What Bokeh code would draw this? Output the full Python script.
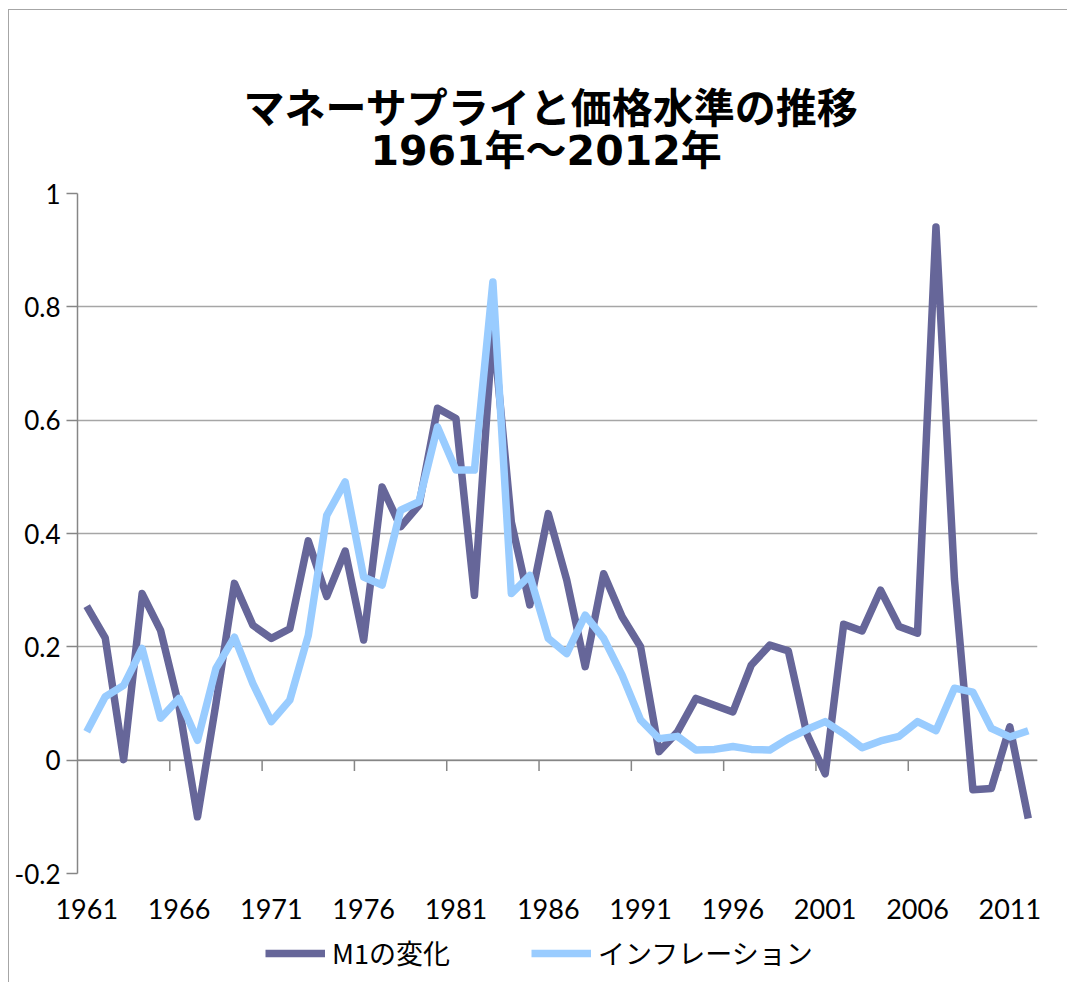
from bokeh.plotting import figure
from bokeh.layouts import column
from bokeh.models import (Range1d, FixedTicker, CustomJSTickFormatter, Span,
                          Legend, LegendItem, Title)
from bokeh.embed import file_html
from bokeh.resources import INLINE

# ---- data ----
years = list(range(1961, 2013))
m1_change = [0.272, 0.216, 0.001, 0.294, 0.229, 0.095, -0.100, 0.100, 0.312, 0.238,
             0.215, 0.232, 0.387, 0.289, 0.369, 0.212, 0.482, 0.412, 0.450, 0.621,
             0.603, 0.291, 0.765, 0.420, 0.274, 0.435, 0.318, 0.165, 0.329, 0.253,
             0.200, 0.015, 0.050, 0.109, 0.097, 0.085, 0.168, 0.203, 0.193, 0.047,
             -0.024, 0.240, 0.228, 0.300, 0.236, 0.224, 0.941, 0.320, -0.052, -0.050,
             0.059, -0.103]
inflation = [0.050, 0.112, 0.132, 0.197, 0.074, 0.109, 0.035, 0.162, 0.217, 0.135,
             0.068, 0.106, 0.220, 0.432, 0.491, 0.323, 0.309, 0.441, 0.456, 0.588,
             0.512, 0.512, 0.844, 0.294, 0.326, 0.215, 0.188, 0.256, 0.215, 0.150,
             0.071, 0.038, 0.042, 0.018, 0.019, 0.024, 0.019, 0.018, 0.038, 0.054,
             0.068, 0.047, 0.022, 0.034, 0.042, 0.068, 0.052, 0.127, 0.120, 0.056,
             0.041, 0.052]
label_years = years[::5]
y_ticks = [-0.2, 0, 0.2, 0.4, 0.6, 0.8, 1.0]
series_names = ["M1の変化", "インフレーション"]
title_line1 = "マネーサプライと価格水準の推移"
title_line2 = "1961年～2012年"

DARK = "#666699"
LIGHT = "#99ccff"
AXIS = "#868686"
GRID = "#a6a6a6"
LATIN = "Lato"
CJK = "Noto Sans CJK JP"

W = 1058
p = figure(width=W, height=923,
           x_range=Range1d(years[0] - 0.5, years[-1] + 0.5),
           y_range=Range1d(-0.2, 1.0),
           output_backend="svg", toolbar_location=None, title=None,
           min_border_left=68, min_border_right=30,
           min_border_top=183, min_border_bottom=60)
p.outline_line_color = None
p.background_fill_color = "white"
p.border_fill_color = "white"

# x axis (category labels at bottom)
xa = p.xaxis[0]
xa.ticker = FixedTicker(ticks=label_years)
xa.axis_line_color = None
xa.major_tick_line_color = None
xa.minor_tick_line_color = None
xa.major_label_text_font = LATIN
xa.major_label_text_font_size = "27px"
xa.major_label_text_color = "black"
xa.major_label_standoff = 19

# y axis
ya = p.yaxis[0]
ya.ticker = FixedTicker(ticks=y_ticks)
ya.formatter = CustomJSTickFormatter(code="return String(Math.round(tick*10)/10)")
ya.axis_line_color = AXIS
ya.axis_line_width = 1.5
ya.major_tick_line_color = AXIS
ya.major_tick_line_width = 1.5
ya.major_tick_out = 11
ya.major_tick_in = 0
ya.minor_tick_line_color = None
ya.major_label_text_font = LATIN
ya.major_label_text_font_size = "26px"
ya.major_label_text_color = "black"
ya.major_label_standoff = 6

p.xgrid.visible = False
p.ygrid.ticker = FixedTicker(ticks=y_ticks)
p.ygrid.grid_line_color = GRID
p.ygrid.grid_line_width = 1.5

# zero line with category tick marks
p.add_layout(Span(location=0, dimension="width", line_color=AXIS,
                  line_width=1.5, level="underlay"))
bounds = [y - 0.5 for y in years[5::5]]
p.segment(x0=bounds, y0=[0] * len(bounds), x1=bounds, y1=[-0.019] * len(bounds),
          line_color=AXIS, line_width=1.5)

line_style = dict(line_width=7.5, line_join="round", line_cap="butt")
p.line(years, m1_change, line_color=DARK, **line_style)
p.line(years, inflation, line_color=LIGHT, **line_style)

p.add_layout(Title(text=title_line2, align="left", offset=293,
                   text_font="DejaVu Sans, Noto Sans CJK JP",
                   text_font_size="41px", text_font_style="bold",
                   text_color="black", standoff=37), "above")
p.add_layout(Title(text=title_line1, align="left", offset=166, text_font=CJK,
                   text_font_size="41px", text_font_style="bold",
                   text_color="black", standoff=-56), "above")

# ---- legend strip below the chart (series drawn outside its view) ----
q = figure(width=W, height=49, x_range=Range1d(0, 1), y_range=Range1d(0, 1),
           output_backend="svg", toolbar_location=None, title=None,
           x_axis_type=None, y_axis_type=None,
           min_border_left=0, min_border_right=0, min_border_top=0, min_border_bottom=0)
q.outline_line_color = None
q.background_fill_color = "white"
q.border_fill_color = "white"
k1 = q.line(years, m1_change, line_color=DARK, **line_style)
k2 = q.line(years, inflation, line_color=LIGHT, **line_style)
for r, name, loc in [(k1, series_names[0], (188, 10)), (k2, series_names[1], (454, 10))]:
    q.add_layout(Legend(items=[LegendItem(label=name, renderers=[r])], location=loc,
                        orientation="horizontal", glyph_width=60, glyph_height=20,
                        label_standoff=7, padding=0, margin=0,
                        border_line_color=None, background_fill_alpha=0,
                        label_text_font=CJK, label_text_font_size="27px",
                        label_text_color="black"))

layout = column(p, q, spacing=0,
                styles={"border-left": "1px solid #a6a6a6",
                        "border-top": "1px solid #a6a6a6",
                        "margin-left": "8px", "margin-top": "9px"})

open("out.html", "w").write(file_html(layout, INLINE))
